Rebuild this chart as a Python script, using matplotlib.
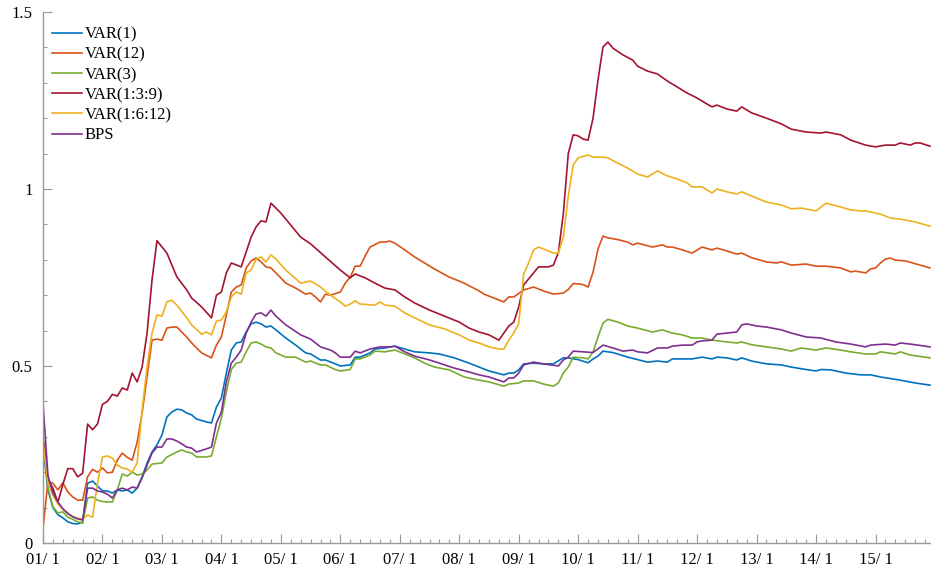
import matplotlib
matplotlib.use("Agg")
import matplotlib.pyplot as plt
from matplotlib.ticker import FixedLocator, MultipleLocator

plt.rcParams['font.family'] = ['Liberation Serif', 'DejaVu Serif']

# x = months since Jan 2001
year_labels = [f"{y:02d}/ 1" for y in range(1, 16)]
year_ticks = [12 * i for i in range(15)]

var1_m = [0,1,2,3,4,5,6,7,8,9,10,11,12,13,14,15,16,17,18,19,20,21,22,23,24,25,26,27,28,29,30,31,33,34,35,36,37,38,39,40,41,42,43,44,45,46,47,49,51,53,54,56,57,59,60,62,63,64,66,67,69,71,73,75,78,80,83,86,88,90,93,94,95,96,97,99,101,103,105,106,108,110,111,112,113,115,118,122,124,126,127,129,131,133,135,136,138,140,141,143,146,149,151,154,156,157,159,162,165,167,169,173,176,179]
var1_v = [.27,.15,.10,.08,.071,.06,.055,.054,.059,.169,.175,.161,.147,.147,.141,.15,.147,.15,.141,.155,.187,.226,.257,.277,.305,.356,.37,.378,.376,.367,.362,.35,.342,.339,.384,.41,.48,.545,.565,.568,.596,.619,.624,.619,.61,.613,.602,.579,.559,.537,.534,.517,.517,.506,.50,.503,.525,.525,.537,.548,.551,.556,.548,.54,.537,.534,.523,.508,.497,.486,.475,.48,.48,.489,.506,.508,.506,.506,.523,.523,.518,.509,.52,.528,.542,.538,.525,.511,.514,.511,.52,.52,.52,.525,.52,.525,.523,.517,.523,.514,.506,.503,.497,.49,.486,.49,.489,.48,.475,.475,.469,.46,.452,.446]

var12_m = [0,1,2,3,4,5,6,7,8,9,10,11,12,13,14,15,16,17,18,19,20,21,22,23,24,25,26,27,28,29,30,32,34,35,36,37,38,39,40,41,42,43,44,45,46,47,49,51,53,54,55,56,57,58,60,61,62,63,64,65,66,68,69,70,71,73,75,77,79,82,85,88,89,91,93,94,95,97,99,101,103,105,106,107,108,109,110,111,112,113,114,116,118,119,120,123,125,126,127,129,131,133,135,136,138,140,141,143,146,148,149,151,154,156,158,161,163,164,166,167,168,169,170,171,172,174,177,179]
var12_v = [.042,.173,.169,.15,.17,.144,.13,.121,.121,.187,.208,.20,.212,.198,.20,.234,.254,.242,.234,.285,.367,.469,.573,.576,.573,.607,.61,.61,.596,.582,.565,.537,.523,.559,.582,.644,.709,.723,.729,.777,.797,.805,.794,.78,.777,.763,.734,.72,.703,.706,.695,.681,.703,.70,.709,.734,.751,.782,.782,.811,.836,.85,.85,.853,.847,.828,.808,.791,.774,.751,.734,.712,.703,.692,.681,.695,.695,.715,.723,.712,.703,.706,.716,.733,.732,.73,.723,.765,.83,.867,.862,.857,.85,.842,.847,.836,.842,.836,.836,.828,.819,.836,.828,.833,.825,.816,.819,.806,.794,.791,.794,.785,.788,.782,.782,.777,.766,.768,.763,.774,.777,.791,.802,.805,.799,.797,.785,.777]

var3_m = [0,1,2,3,4,5,6,7,8,9,10,11,12,13,14,15,16,17,18,19,20,21,22,24,25,27,28,29,30,31,33,34,35,36,37,38,39,40,41,42,43,44,45,46,47,49,51,53,54,56,57,59,60,62,63,64,66,67,69,71,73,75,77,79,82,85,88,90,93,94,96,97,99,101,103,104,105,106,107,109,110,111,112,113,114,116,118,120,123,125,127,129,131,133,135,138,140,141,143,146,149,151,153,156,158,161,163,166,168,169,172,173,175,179]
var3_v = [.305,.155,.102,.085,.088,.073,.067,.06,.056,.127,.13,.121,.117,.116,.116,.15,.195,.189,.20,.192,.195,.206,.223,.226,.243,.257,.263,.257,.254,.243,.243,.246,.30,.353,.427,.49,.508,.511,.54,.565,.568,.562,.554,.551,.537,.525,.525,.511,.514,.503,.503,.49,.486,.49,.52,.52,.531,.542,.54,.545,.534,.523,.508,.497,.489,.469,.46,.455,.443,.449,.452,.458,.458,.449,.443,.452,.48,.497,.525,.523,.52,.54,.582,.621,.632,.624,.613,.607,.596,.602,.593,.588,.579,.579,.573,.568,.565,.568,.560,.554,.548,.542,.551,.545,.551,.545,.54,.534,.534,.54,.534,.54,.531,.523]

var139_m = [0,1,2,3,4,5,6,7,8,9,10,11,12,13,14,15,16,17,18,19,20,21,22,23,25,27,29,30,32,34,35,36,37,38,40,42,43,44,45,46,48,52,54,57,60,62,63,65,67,69,71,73,75,78,81,84,86,88,90,92,93,94,95,96,97,99,100,102,103,104,105,106,107,108,109,110,111,112,113,114,115,117,119,120,122,124,126,128,130,132,134,135,136,138,140,141,143,146,149,151,154,157,158,161,163,166,168,170,172,173,175,176,177,179]
var139_v = [.30,.18,.155,.115,.165,.21,.21,.187,.197,.336,.32,.336,.392,.40,.42,.415,.438,.432,.48,.455,.497,.593,.743,.854,.819,.752,.715,.692,.667,.636,.70,.709,.763,.791,.78,.864,.893,.91,.907,.96,.932,.864,.845,.808,.771,.749,.76,.749,.734,.72,.715,.695,.678,.658,.641,.624,.607,.596,.588,.573,.593,.613,.624,.667,.729,.763,.78,.78,.785,.82,.93,1.10,1.153,1.15,1.141,1.138,1.2,1.308,1.401,1.415,1.398,1.379,1.364,1.347,1.333,1.325,1.305,1.288,1.271,1.257,1.24,1.232,1.237,1.226,1.22,1.232,1.215,1.2,1.184,1.169,1.161,1.158,1.161,1.153,1.138,1.124,1.119,1.124,1.124,1.13,1.124,1.13,1.13,1.121]

var1612_m = [0,1,2,3,4,5,6,7,8,9,10,11,12,13,14,15,16,17,18,19,20,21,22,23,24,25,26,27,29,30,32,33,34,35,36,37,38,39,40,41,42,43,44,45,46,47,49,52,54,56,58,60,61,62,63,64,67,68,69,71,73,75,78,81,84,86,88,90,92,93,94,95,96,97,98,99,100,102,103,104,105,106,107,108,110,111,113,114,116,118,120,122,124,126,128,130,131,133,135,136,138,140,141,143,146,149,151,153,156,158,161,163,165,166,169,171,173,176,179]
var1612_v = [.284,.17,.135,.11,.095,.085,.075,.07,.068,.079,.073,.169,.243,.246,.24,.22,.212,.209,.20,.226,.376,.497,.593,.644,.641,.681,.686,.672,.636,.616,.59,.596,.588,.627,.63,.653,.695,.709,.703,.763,.771,.802,.808,.794,.814,.802,.771,.734,.74,.723,.70,.681,.669,.675,.684,.675,.672,.681,.672,.669,.65,.636,.616,.605,.588,.573,.565,.554,.548,.548,.573,.593,.62,.76,.791,.828,.836,.825,.819,.819,.864,.98,1.068,1.088,1.096,1.09,1.09,1.088,1.073,1.059,1.042,1.034,1.051,1.037,1.028,1.017,1.006,1.006,.989,1.0,.992,.986,.992,.98,.963,.955,.944,.946,.938,.96,.949,.941,.938,.938,.929,.918,.915,.907,.895]

bps_m = [0,1,2,3,4,5,6,7,8,9,10,11,12,13,14,15,16,17,18,19,20,21,22,23,24,25,26,27,28,29,30,31,33,34,35,36,37,38,39,40,41,42,43,44,45,46,47,49,52,54,56,58,59,60,62,63,64,66,68,70,71,73,75,78,80,83,86,88,90,93,94,95,96,97,99,101,104,105,106,107,109,111,113,115,117,119,120,122,124,126,127,129,131,132,133,135,136,138,140,141,142,144,146,149,151,154,157,160,163,166,167,170,172,173,175,179]
bps_v = [.395,.19,.141,.116,.097,.083,.074,.068,.065,.155,.155,.147,.144,.138,.127,.15,.155,.15,.158,.155,.184,.22,.254,.271,.271,.294,.294,.288,.28,.271,.268,.257,.266,.271,.339,.37,.455,.508,.525,.545,.593,.624,.647,.65,.641,.658,.641,.616,.588,.576,.554,.545,.537,.525,.525,.542,.537,.548,.554,.554,.556,.54,.528,.517,.508,.494,.483,.475,.469,.455,.466,.466,.48,.503,.511,.506,.50,.517,.525,.542,.54,.538,.559,.551,.542,.545,.54,.537,.551,.551,.556,.559,.559,.568,.571,.573,.59,.593,.596,.616,.619,.613,.61,.602,.593,.582,.579,.568,.562,.554,.559,.562,.559,.565,.562,.554]

series = [
    ("VAR(1)", var1_m, var1_v, "#0072BD"),
    ("VAR(12)", var12_m, var12_v, "#D95319"),
    ("VAR(3)", var3_m, var3_v, "#77AC30"),
    ("VAR(1:3:9)", var139_m, var139_v, "#A2142F"),
    ("VAR(1:6:12)", var1612_m, var1612_v, "#EDB120"),
    ("BPS", bps_m, bps_v, "#7E2F8E"),
]

W, H = 931, 573
fig = plt.figure(figsize=(W / 100, H / 100), dpi=100)
ax = fig.add_axes([43 / W, 30 / H, 888 / W, 531 / H])

for name, m, v, c in series:
    ax.plot(m, v, color=c, lw=1.2, label=name)

ax.set_xlim(0, 179.2)
ax.set_ylim(0, 1.5)
ax.xaxis.set_major_locator(FixedLocator(year_ticks))
ax.set_xticklabels(year_labels)
ax.xaxis.set_minor_locator(MultipleLocator(2))
ax.yaxis.set_major_locator(FixedLocator([0, 0.5, 1, 1.5]))
ax.set_yticklabels(["0", "0.5", "1", "1.5"])
ax.yaxis.set_minor_locator(MultipleLocator(0.1))

for s in ["top", "right"]:
    ax.spines[s].set_visible(False)
for s in ["left", "bottom"]:
    ax.spines[s].set_color("#9a9a9a")
    ax.spines[s].set_linewidth(1.0)

ax.tick_params(which="both", direction="in", colors="#9a9a9a", labelcolor="black", labelsize=12)
ax.tick_params(which="major", length=6.5, width=0.8)
ax.tick_params(which="minor", length=3, width=0.8)
ax.tick_params(axis="x", which="major", pad=6.5)
ax.tick_params(axis="y", which="major", pad=7.5)

ax.legend(loc="upper left", bbox_to_anchor=(45 / W, 1 - 20 / H), bbox_transform=fig.transFigure,
          frameon=False, fontsize=12, handlelength=1.8, handletextpad=0.2,
          labelspacing=0.25, borderpad=0.4, borderaxespad=0)

fig.savefig("out.png", dpi=100)
